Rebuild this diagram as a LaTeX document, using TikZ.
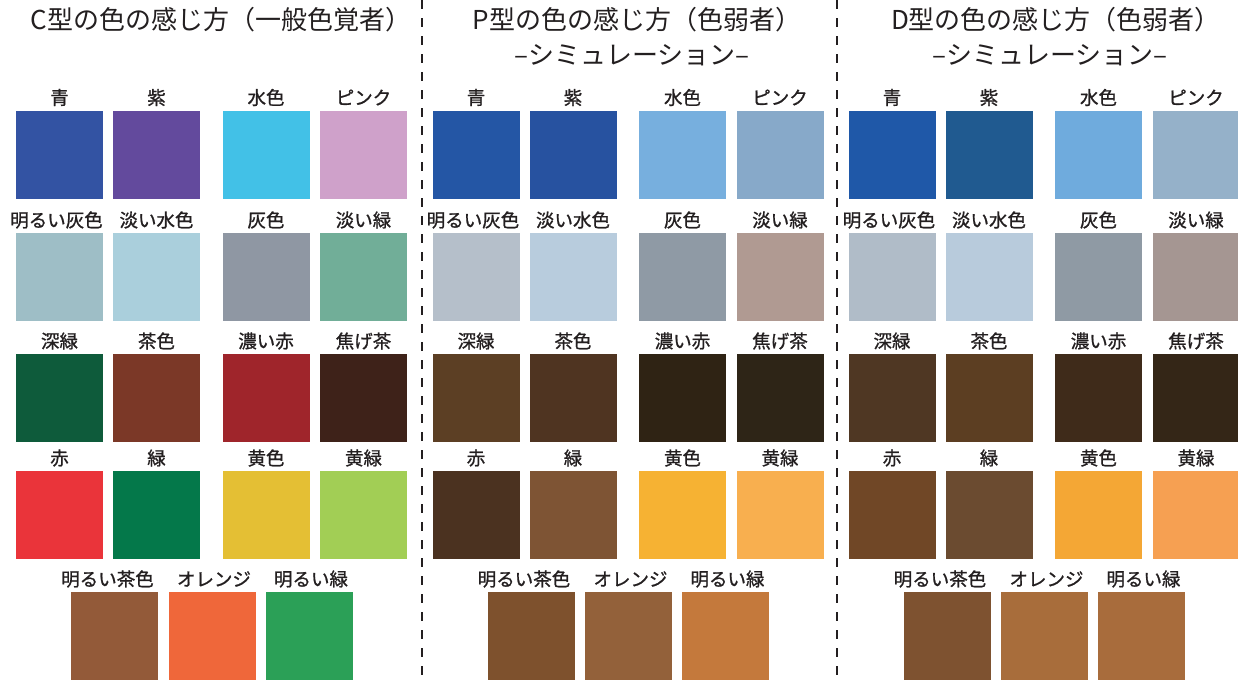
\documentclass[tikz,border=0pt]{standalone}
\usepackage{fontspec}
\setmainfont{Noto Sans CJK JP}
\newfontfamily\labfont{Noto Sans CJK JP}[FakeBold=1]
\usetikzlibrary{calc}
% Panel C colours
\definecolor{cA}{HTML}{3353A3}\definecolor{cB}{HTML}{634A9D}\definecolor{cC}{HTML}{42C1E7}\definecolor{cD}{HTML}{CFA1CA}
\definecolor{cE}{HTML}{9EBEC6}\definecolor{cF}{HTML}{AACFDC}\definecolor{cG}{HTML}{8F97A3}\definecolor{cH}{HTML}{71AE98}
\definecolor{cI}{HTML}{0E5B3B}\definecolor{cJ}{HTML}{7B3827}\definecolor{cK}{HTML}{9F252B}\definecolor{cL}{HTML}{3E2219}
\definecolor{cM}{HTML}{EA343A}\definecolor{cN}{HTML}{04784A}\definecolor{cO}{HTML}{E4BF34}\definecolor{cP}{HTML}{A2CE55}
\definecolor{cQ}{HTML}{935A39}\definecolor{cR}{HTML}{EF673A}\definecolor{cS}{HTML}{2BA057}
% Panel P colours
\definecolor{pA}{HTML}{2456A5}\definecolor{pB}{HTML}{2752A0}\definecolor{pC}{HTML}{77AFDE}\definecolor{pD}{HTML}{87A9C9}
\definecolor{pE}{HTML}{B5BFCA}\definecolor{pF}{HTML}{B8CCDD}\definecolor{pG}{HTML}{8F9AA5}\definecolor{pH}{HTML}{B09A92}
\definecolor{pI}{HTML}{5C3F24}\definecolor{pJ}{HTML}{4F3421}\definecolor{pK}{HTML}{2F2314}\definecolor{pL}{HTML}{2E2517}
\definecolor{pM}{HTML}{4B3220}\definecolor{pN}{HTML}{7E5434}\definecolor{pO}{HTML}{F6B233}\definecolor{pP}{HTML}{F8AF4F}
\definecolor{pQ}{HTML}{7E512D}\definecolor{pR}{HTML}{93613A}\definecolor{pS}{HTML}{C4793C}
% Panel D colours
\definecolor{dA}{HTML}{1F58A8}\definecolor{dB}{HTML}{205A90}\definecolor{dC}{HTML}{6FABDD}\definecolor{dD}{HTML}{95B1C9}
\definecolor{dE}{HTML}{B0BCC8}\definecolor{dF}{HTML}{B8CBDC}\definecolor{dG}{HTML}{8F9AA4}\definecolor{dH}{HTML}{A59692}
\definecolor{dI}{HTML}{4F3723}\definecolor{dJ}{HTML}{5C3E22}\definecolor{dK}{HTML}{3F2B1A}\definecolor{dL}{HTML}{342617}
\definecolor{dM}{HTML}{704726}\definecolor{dN}{HTML}{6B4B30}\definecolor{dO}{HTML}{F4A735}\definecolor{dP}{HTML}{F6A052}
\definecolor{dQ}{HTML}{7E5230}\definecolor{dR}{HTML}{A86D3B}\definecolor{dS}{HTML}{A86C3C}
\definecolor{ink}{HTML}{231F20}
\tikzset{
  sw/.style={draw=none, minimum width=87pt, minimum height=88pt, inner sep=0pt, outer sep=0pt},
  lab/.style={text=ink, font=\labfont\fontsize{18.5}{20}\selectfont, inner sep=0pt},
  ttl/.style={text=ink, font=\fontsize{26}{30}\selectfont, inner sep=0pt},
  sep/.style={draw=ink, line width=2pt, dash pattern=on 9pt off 9pt}
}
% name, x, y, colour, label, label x-offset
\newcommand\swatchbox[6]{%
  \node[sw, fill=#4] (#1) at (#2,#3) {};
  \node[lab] (#1l) at ($(#1.center)+(#6,-57)$) {#5};
}
\newcommand\panelbody[2]{% prefix, x offset
  \swatchbox{#1A}{59.5+#2}{154.5}{#1A}{青}{0}
  \swatchbox{#1B}{156.5+#2}{154.5}{#1B}{紫}{0}
  \swatchbox{#1C}{266+#2}{154.5}{#1C}{水色}{0}
  \swatchbox{#1D}{363.5+#2}{154.5}{#1D}{ピンク}{0}
  \swatchbox{#1E}{59.5+#2}{277}{#1E}{明るい灰色}{-3}
  \swatchbox{#1F}{156.5+#2}{277}{#1F}{淡い水色}{0}
  \swatchbox{#1G}{266+#2}{277}{#1G}{灰色}{0}
  \swatchbox{#1H}{363.5+#2}{277}{#1H}{淡い緑}{0}
  \swatchbox{#1I}{59.5+#2}{398}{#1I}{深緑}{0}
  \swatchbox{#1J}{156.5+#2}{398}{#1J}{茶色}{0}
  \swatchbox{#1K}{266+#2}{398}{#1K}{濃い赤}{0}
  \swatchbox{#1L}{363.5+#2}{398}{#1L}{焦げ茶}{0}
  \swatchbox{#1M}{59.5+#2}{515}{#1M}{赤}{0}
  \swatchbox{#1N}{156.5+#2}{515}{#1N}{緑}{0}
  \swatchbox{#1O}{266+#2}{515}{#1O}{黄色}{0}
  \swatchbox{#1P}{363.5+#2}{515}{#1P}{黄緑}{0}
  \swatchbox{#1Q}{114.5+#2}{636}{#1Q}{明るい茶色}{-7}
  \swatchbox{#1R}{212+#2}{636}{#1R}{オレンジ}{2}
  \swatchbox{#1S}{309+#2}{636}{#1S}{明るい緑}{2}
}
\begin{document}
\begin{tikzpicture}[x=1pt,y=-1pt]
\useasboundingbox (0,0) rectangle (1238,681);
\panelbody{c}{0}
\panelbody{p}{416.5}
\panelbody{d}{832.5}
\node[ttl] (tC) at (221,20) {C型の色の感じ方（一般色覚者）};
\node[ttl] (tP) at (637,20) {P型の色の感じ方（色弱者）};
\node[ttl] (sP) at (632,55) {–シミュレーション–};
\node[ttl] (tD) at (1056,20) {D型の色の感じ方（色弱者）};
\node[ttl] (sD) at (1050,55) {–シミュレーション–};
\coordinate (l1t) at (421.5,0); \coordinate (l1b) at (421.5,681);
\coordinate (l2t) at (837,0); \coordinate (l2b) at (837,681);
\draw[sep] (l1t) -- (l1b);
\draw[sep] (l2t) -- (l2b);
\end{tikzpicture}
\end{document}
